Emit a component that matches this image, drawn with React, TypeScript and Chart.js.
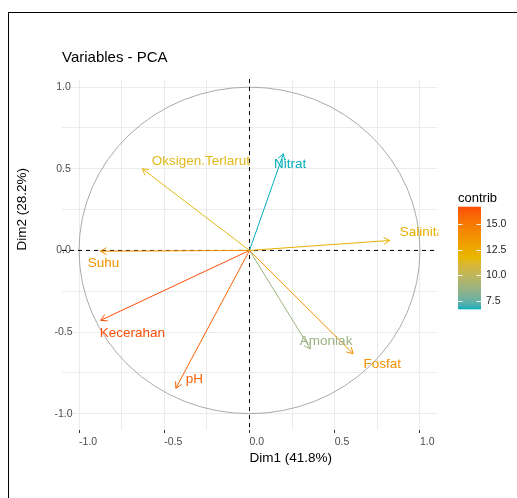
import { useEffect, useRef } from "react";
import { Chart, registerables } from "chart.js";

Chart.register(...registerables);

// PCA variable coordinates on the first two dimensions
const variables = ["Suhu", "Salinitas", "Kecerahan", "pH", "Oksigen.Terlarut", "Nitrat", "Fosfat", "Amoniak"];
const dim1 = [-0.875, 0.823, -0.873, -0.432, -0.629, 0.199, 0.608, 0.357];
const dim2 = [-0.005, 0.061, -0.428, -0.844, 0.5, 0.592, -0.633, -0.604];
// contribution (%) of each variable to Dim1 + Dim2
const contrib = [13.7, 12.2, 16.7, 16.0, 11.5, 6.7, 13.8, 8.8];

const gridValues = [-1, -0.75, -0.5, -0.25, 0, 0.25, 0.5, 0.75, 1];
const labelledValues = [-1, -0.5, 0, 0.5, 1];
const legendTicks = [7.5, 10, 12.5, 15];
const gradientColours = ["#00AFBB", "#E7B800", "#FC4E07"];

const FONT = '"Liberation Sans", Arial, Helvetica, sans-serif';

// text nudges (px) from each arrow tip: [dx to left edge, dy to middle]
const labelNudge: Record<string, [number, number]> = {
  Suhu: [-12.5, 12],
  Salinitas: [10, -8.3],
  Kecerahan: [-1, 12.8],
  pH: [10, -8.5],
  "Oksigen.Terlarut": [9.5, -7.6],
  Nitrat: [-9.5, 11],
  Fosfat: [10.3, 10.6],
  Amoniak: [-10.5, -7.9],
};

// ---- colour ramp interpolated in CIELAB ----
type Lab = [number, number, number];
const hexToRgb = (h: string) => [1, 3, 5].map((i) => parseInt(h.slice(i, i + 2), 16));
const toLin = (c: number) => {
  c /= 255;
  return c <= 0.04045 ? c / 12.92 : Math.pow((c + 0.055) / 1.055, 2.4);
};
const fromLin = (c: number) => {
  const v = c <= 0.0031308 ? 12.92 * c : 1.055 * Math.pow(c, 1 / 2.4) - 0.055;
  return Math.round(Math.min(1, Math.max(0, v)) * 255);
};
const Xn = 0.95047, Yn = 1, Zn = 1.08883;
const f = (t: number) => (t > 0.008856 ? Math.cbrt(t) : 7.787 * t + 16 / 116);
const fi = (t: number) => (t > 0.206893 ? t * t * t : (t - 16 / 116) / 7.787);
function rgbToLab(hex: string): Lab {
  const [r, g, b] = hexToRgb(hex).map(toLin);
  const X = 0.4124 * r + 0.3576 * g + 0.1805 * b;
  const Y = 0.2126 * r + 0.7152 * g + 0.0722 * b;
  const Z = 0.0193 * r + 0.1192 * g + 0.9505 * b;
  const fx = f(X / Xn), fy = f(Y / Yn), fz = f(Z / Zn);
  return [116 * fy - 16, 500 * (fx - fy), 200 * (fy - fz)];
}
function labToRgb([L, a, b]: Lab): string {
  const fy = (L + 16) / 116, fx = fy + a / 500, fz = fy - b / 200;
  const X = Xn * fi(fx), Y = Yn * fi(fy), Z = Zn * fi(fz);
  const r = 3.2406 * X - 1.5372 * Y - 0.4986 * Z;
  const g = -0.9689 * X + 1.8758 * Y + 0.0415 * Z;
  const bb = 0.0557 * X - 0.204 * Y + 1.057 * Z;
  return `rgb(${fromLin(r)},${fromLin(g)},${fromLin(bb)})`;
}
const labStops = gradientColours.map(rgbToLab);
const cMin = Math.min(...contrib);
const cMax = Math.max(...contrib);
function rampAt(t: number): string {
  const tt = Math.min(1, Math.max(0, t)) * (labStops.length - 1);
  const i = Math.min(labStops.length - 2, Math.floor(tt));
  const u = tt - i;
  const A = labStops[i], B = labStops[i + 1];
  return labToRgb([A[0] + (B[0] - A[0]) * u, A[1] + (B[1] - A[1]) * u, A[2] + (B[2] - A[2]) * u]);
}
const colourFor = (v: number) => rampAt((v - cMin) / (cMax - cMin));
const colours = contrib.map(colourFor);

const overlayPlugin = {
  id: "pcaOverlay",
  beforeDatasetsDraw(chart: any) {
    const { ctx, chartArea: a, scales } = chart;
    const x0 = scales.x.getPixelForValue(0);
    const y0 = scales.y.getPixelForValue(0);
    const rx = scales.x.getPixelForValue(1) - x0;
    const ry = y0 - scales.y.getPixelForValue(1);
    ctx.save();
    ctx.beginPath();
    ctx.rect(a.left, a.top, a.right - a.left, a.bottom - a.top);
    ctx.clip();
    // correlation circle
    ctx.strokeStyle = "#a9a9a9";
    ctx.lineWidth = 1;
    ctx.beginPath();
    ctx.ellipse(x0, y0, rx, ry, 0, 0, Math.PI * 2);
    ctx.stroke();
    // dashed reference axes
    ctx.strokeStyle = "#000";
    ctx.setLineDash([4, 4]);
    ctx.beginPath();
    ctx.moveTo(a.left, y0);
    ctx.lineTo(a.right, y0);
    ctx.moveTo(x0, a.top);
    ctx.lineTo(x0, a.bottom);
    ctx.stroke();
    ctx.restore();
  },
  afterDatasetsDraw(chart: any) {
    const { ctx, chartArea: a } = chart;
    ctx.save();
    ctx.beginPath();
    ctx.rect(a.left, a.top, a.right - a.left + 1.5, a.bottom - a.top);
    ctx.clip();
    variables.forEach((name, i) => {
      const meta = chart.getDatasetMeta(i);
      const p0 = meta.data[0], p1 = meta.data[1];
      const ang = Math.atan2(p1.y - p0.y, p1.x - p0.x);
      const len = 7;
      ctx.strokeStyle = colours[i];
      ctx.lineWidth = 1;
      ctx.beginPath();
      ctx.moveTo(p1.x + len * Math.cos(ang + Math.PI - Math.PI / 6), p1.y + len * Math.sin(ang + Math.PI - Math.PI / 6));
      ctx.lineTo(p1.x, p1.y);
      ctx.lineTo(p1.x + len * Math.cos(ang + Math.PI + Math.PI / 6), p1.y + len * Math.sin(ang + Math.PI + Math.PI / 6));
      ctx.stroke();
      const [dx, dy] = labelNudge[name];
      ctx.fillStyle = colours[i];
      ctx.font = `13.5px ${FONT}`;
      ctx.textAlign = "left";
      ctx.textBaseline = "middle";
      ctx.fillText(name, p1.x + dx, p1.y + dy);
    });
    ctx.restore();
  },
  afterDraw(chart: any) {
    const { ctx, chartArea: a } = chart;
    ctx.save();
    ctx.fillStyle = "#000";
    ctx.textBaseline = "middle";
    ctx.textAlign = "left";
    // plot title
    ctx.font = `15px ${FONT}`;
    ctx.fillText("Variables - PCA", a.left, 44.5);
    // axis titles
    ctx.font = `13.5px ${FONT}`;
    ctx.fillText("Dim1 (41.8%)", (a.left + a.right) / 2, 445);
    ctx.save();
    ctx.translate(13.5, 237.5);
    ctx.rotate(-Math.PI / 2);
    ctx.fillText("Dim2 (28.2%)", 0, 0);
    ctx.restore();

    // colour bar legend
    const barL = a.right + 21, barW = 23, barTop = 193.7, barBot = 296.3;
    ctx.font = `13px ${FONT}`;
    ctx.fillText("contrib", barL, 185.3);
    const grad = ctx.createLinearGradient(0, barBot, 0, barTop);
    for (let k = 0; k <= 40; k++) grad.addColorStop(k / 40, rampAt(k / 40));
    ctx.fillStyle = grad;
    ctx.fillRect(barL, barTop, barW, barBot - barTop);
    ctx.font = `10.5px ${FONT}`;
    legendTicks.forEach((v) => {
      const ty = Math.round(barBot - ((v - cMin) / (cMax - cMin)) * (barBot - barTop)) + 0.5;
      ctx.strokeStyle = "rgba(255,255,255,0.9)";
      ctx.lineWidth = 1;
      ctx.beginPath();
      ctx.moveTo(barL, ty);
      ctx.lineTo(barL + 4.5, ty);
      ctx.moveTo(barL + barW - 4.5, ty);
      ctx.lineTo(barL + barW, ty);
      ctx.stroke();
      ctx.fillStyle = "#222";
      ctx.fillText(v.toFixed(1), barL + barW + 5, ty);
    });
    ctx.restore();
  },
};

export default function App() {
  const canvasRef = useRef<HTMLCanvasElement | null>(null);

  useEffect(() => {
    const canvas = canvasRef.current;
    if (!canvas) return;
    const datasets = variables.map((name, i) => ({
      label: name,
      data: [
        { x: 0, y: 0 },
        { x: dim1[i], y: dim2[i] },
      ],
      showLine: true,
      borderColor: colours[i],
      backgroundColor: colours[i],
      borderWidth: 1,
      pointRadius: 0,
      pointHoverRadius: 0,
    }));
    const isLabelled = (v: number) => labelledValues.some((l) => Math.abs(l - v) < 1e-9);
    const chart = new Chart(canvas, {
      type: "scatter",
      data: { datasets },
      options: {
        animation: false,
        responsive: false,
        maintainAspectRatio: false,
        events: [],
        layout: { padding: { left: 0, top: 66, right: 80, bottom: 0 } },
        plugins: {
          legend: { display: false },
          title: { display: false },
          tooltip: { enabled: false },
        },
        scales: {
          x: {
            type: "linear",
            min: -1.1,
            max: 1.1,
            afterBuildTicks: (s: any) => {
              s.ticks = gridValues.map((v) => ({ value: v }));
            },
            afterFit: (s: any) => {
              s.height = 68;
            },
            border: { display: false },
            grid: {
              color: "#ebebeb",
              lineWidth: 1,
              drawTicks: true,
              tickLength: 3,
              tickWidth: 1,
              tickColor: (c: any) => (c.tick && isLabelled(c.tick.value) ? "#333" : "rgba(0,0,0,0)"),
            },
            ticks: {
              align: "start",
              padding: 3,
              autoSkip: false,
              maxRotation: 0,
              color: "#4d4d4d",
              font: { family: FONT, size: 10.5 },
              callback: (v: any) => (isLabelled(Number(v)) ? Number(v).toFixed(1) : ""),
            },
          },
          y: {
            type: "linear",
            min: -1.1,
            max: 1.05,
            afterBuildTicks: (s: any) => {
              s.ticks = gridValues.map((v) => ({ value: v }));
            },
            afterFit: (s: any) => {
              s.width = 53;
            },
            border: { display: false },
            grid: { color: "#ebebeb", lineWidth: 1, drawTicks: false },
            ticks: {
              mirror: true,
              crossAlign: "center",
              padding: -7.5,
              autoSkip: false,
              color: "#4d4d4d",
              font: { family: FONT, size: 10.5 },
              callback: (v: any) => (isLabelled(Number(v)) ? Number(v).toFixed(1) : ""),
            },
          },
        },
      } as any,
      plugins: [overlayPlugin],
    });
    return () => chart.destroy();
  }, []);

  return (
    <div
      style={{
        position: "fixed",
        left: 8,
        top: 12,
        width: 530,
        height: 500,
        borderTop: "1px solid #000",
        borderLeft: "1px solid #000",
        background: "#fff",
      }}
    >
      <canvas ref={canvasRef} width={508} height={485} style={{ position: "absolute", left: 0, top: 0 }} />
    </div>
  );
}
